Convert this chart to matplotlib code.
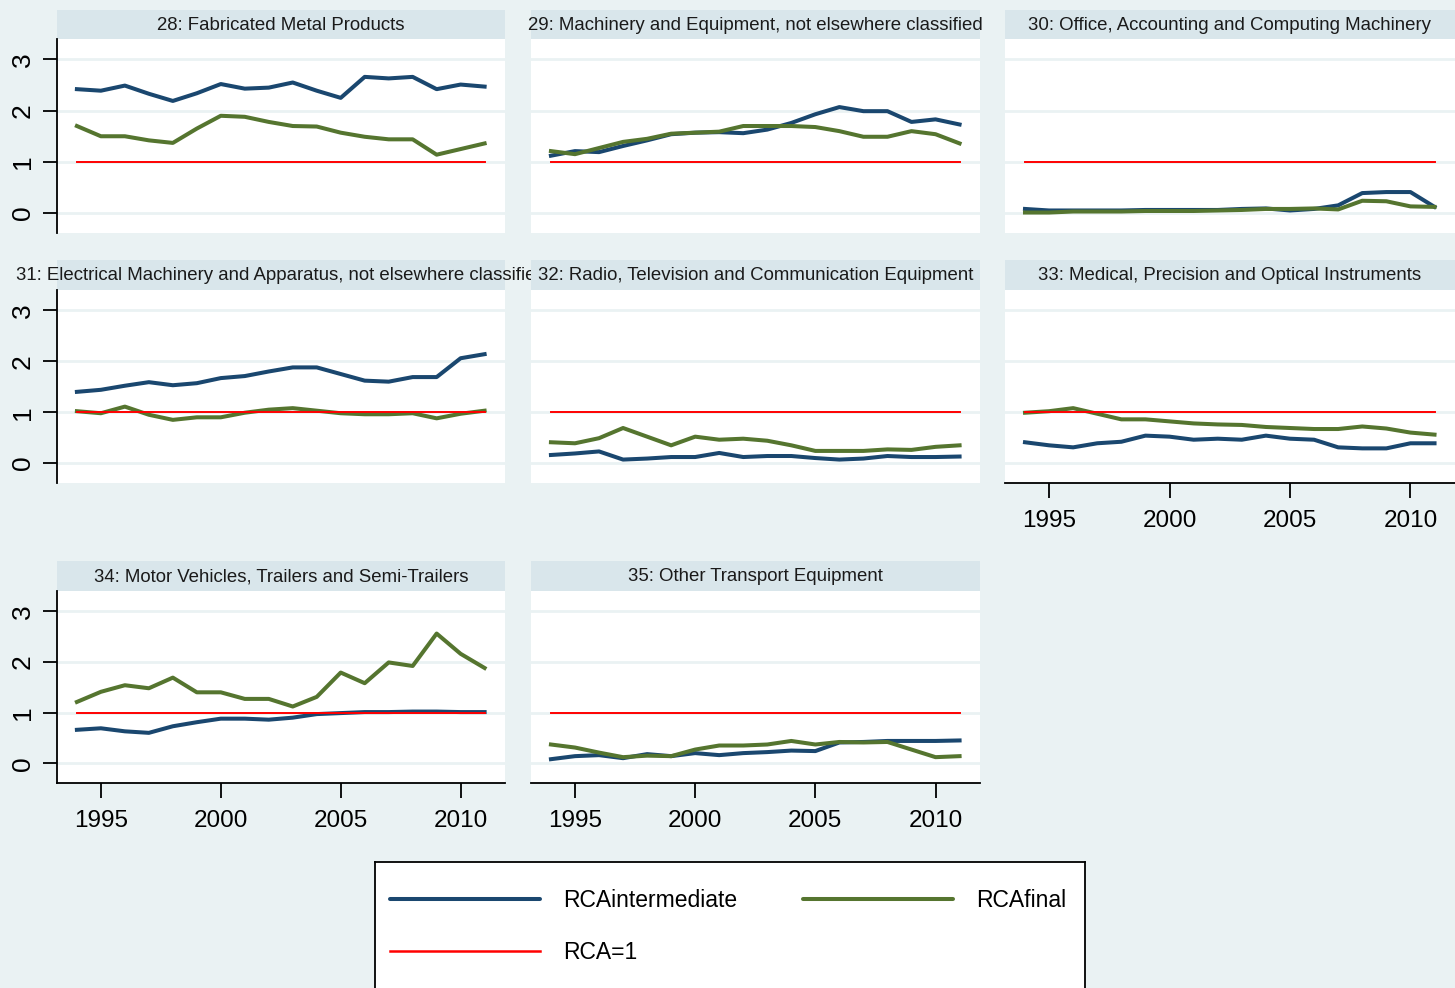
import matplotlib.pyplot as plt
from matplotlib.lines import Line2D

plt.rcParams['font.family'] = ['Liberation Sans', 'DejaVu Sans']

years = list(range(1994, 2012))

titles = [
    '28: Fabricated Metal Products',
    '29: Machinery and Equipment, not elsewhere classified',
    '30: Office, Accounting and Computing Machinery',
    '31: Electrical Machinery and Apparatus, not elsewhere classified',
    '32: Radio, Television and Communication Equipment',
    '33: Medical, Precision and Optical Instruments',
    '34: Motor Vehicles, Trailers and Semi-Trailers',
    '35: Other Transport Equipment',
]

# RCAintermediate / RCAfinal per industry, 1994-2011
inter_28 = [2.42, 2.39, 2.49, 2.33, 2.19, 2.34, 2.52, 2.43, 2.45, 2.55, 2.39, 2.25, 2.66, 2.63, 2.66, 2.42, 2.51, 2.47]
final_28 = [1.70, 1.50, 1.50, 1.42, 1.37, 1.65, 1.90, 1.88, 1.78, 1.70, 1.69, 1.57, 1.49, 1.44, 1.44, 1.14, 1.25, 1.36]

inter_29 = [1.12, 1.21, 1.19, 1.31, 1.42, 1.54, 1.57, 1.58, 1.56, 1.63, 1.76, 1.93, 2.07, 1.99, 1.99, 1.78, 1.83, 1.73]
final_29 = [1.21, 1.15, 1.27, 1.39, 1.45, 1.55, 1.57, 1.59, 1.70, 1.70, 1.70, 1.68, 1.60, 1.49, 1.49, 1.60, 1.54, 1.36]

inter_30 = [0.08, 0.05, 0.05, 0.05, 0.05, 0.06, 0.06, 0.06, 0.06, 0.08, 0.09, 0.05, 0.08, 0.15, 0.39, 0.41, 0.41, 0.12]
final_30 = [0.01, 0.01, 0.03, 0.03, 0.03, 0.04, 0.04, 0.04, 0.05, 0.06, 0.08, 0.08, 0.09, 0.07, 0.24, 0.23, 0.13, 0.12]

inter_31 = [1.40, 1.44, 1.52, 1.59, 1.53, 1.57, 1.67, 1.71, 1.80, 1.88, 1.88, 1.75, 1.62, 1.60, 1.69, 1.69, 2.06, 2.14]
final_31 = [1.02, 0.98, 1.11, 0.95, 0.85, 0.90, 0.90, 0.99, 1.05, 1.08, 1.03, 0.98, 0.96, 0.96, 0.98, 0.88, 0.97, 1.03]

inter_32 = [0.16, 0.19, 0.23, 0.07, 0.09, 0.12, 0.12, 0.20, 0.12, 0.14, 0.14, 0.10, 0.07, 0.09, 0.14, 0.12, 0.12, 0.13]
final_32 = [0.41, 0.39, 0.49, 0.69, 0.52, 0.35, 0.52, 0.46, 0.48, 0.44, 0.35, 0.24, 0.24, 0.24, 0.27, 0.26, 0.32, 0.35]

inter_33 = [0.41, 0.35, 0.31, 0.39, 0.42, 0.54, 0.52, 0.46, 0.48, 0.46, 0.54, 0.48, 0.46, 0.31, 0.29, 0.29, 0.39, 0.39]
final_33 = [0.99, 1.02, 1.08, 0.97, 0.86, 0.86, 0.82, 0.78, 0.76, 0.75, 0.71, 0.69, 0.67, 0.67, 0.72, 0.68, 0.60, 0.56]

inter_34 = [0.66, 0.69, 0.63, 0.60, 0.73, 0.81, 0.88, 0.88, 0.86, 0.90, 0.97, 0.99, 1.01, 1.01, 1.02, 1.02, 1.01, 1.01]
final_34 = [1.21, 1.41, 1.54, 1.48, 1.69, 1.40, 1.40, 1.27, 1.27, 1.12, 1.31, 1.79, 1.58, 1.99, 1.92, 2.56, 2.16, 1.88]

inter_35 = [0.08, 0.14, 0.16, 0.10, 0.18, 0.14, 0.20, 0.16, 0.20, 0.22, 0.25, 0.24, 0.41, 0.42, 0.44, 0.44, 0.44, 0.45]
final_35 = [0.37, 0.31, 0.21, 0.12, 0.15, 0.14, 0.27, 0.35, 0.35, 0.37, 0.44, 0.37, 0.42, 0.41, 0.42, 0.27, 0.12, 0.14]

rca_one = [1] * len(years)

panels = [
    (titles[0], inter_28, final_28),
    (titles[1], inter_29, final_29),
    (titles[2], inter_30, final_30),
    (titles[3], inter_31, final_31),
    (titles[4], inter_32, final_32),
    (titles[5], inter_33, final_33),
    (titles[6], inter_34, final_34),
    (titles[7], inter_35, final_35),
]

W, H = 1455, 988
BG = '#eaf2f3'
STRIP = '#d9e6eb'
BLUE = '#1a476f'
GREEN = '#55752f'
RED = '#ff0000'


def box(l, t, r, b):
    # pixel box -> figure fraction
    return [l / W, 1 - b / H, (r - l) / W, (b - t) / H]


fig = plt.figure(figsize=(W / 100, H / 100), dpi=100, facecolor=BG)

cols = [(57, 505), (531, 980), (1005, 1455)]
rows = [(10, 39, 233), (260, 290, 483), (561, 591, 783)]
with_xaxis = {5, 6, 7}

for i, (title, inter, final) in enumerate(panels):
    r, c = divmod(i, 3)
    left, right = cols[c]
    top, mid, bot = rows[r]

    # header strip
    hx = fig.add_axes(box(left, top, right, mid))
    hx.set_facecolor(STRIP)
    hx.set_xticks([])
    hx.set_yticks([])
    for s in hx.spines.values():
        s.set_visible(False)
    hx.text(0.5, 0.48, title, ha='center', va='center', fontsize=13.4,
            color='#1a1a1a', transform=hx.transAxes, clip_on=False)

    # plot area
    ax = fig.add_axes(box(left, mid, right, bot))
    ax.set_facecolor('white')
    ax.plot(years, inter, color=BLUE, lw=2.9, solid_joinstyle='round')
    ax.plot(years, final, color=GREEN, lw=2.9, solid_joinstyle='round')
    ax.plot(years, rca_one, color=RED, lw=1.4)
    ax.set_xlim(1993.17, 2011.85)
    ax.set_ylim(-0.39, 3.40)
    ax.set_yticks([0, 1, 2, 3])
    ax.grid(axis='y', color=BG, lw=2)
    ax.set_axisbelow(True)
    ax.spines['top'].set_visible(False)
    ax.spines['right'].set_visible(False)

    if c == 0:
        ax.spines['left'].set_linewidth(1.3)
        ax.tick_params(axis='y', length=10, width=1.3, pad=6,
                       labelsize=19, labelrotation=90)
        for lab in ax.get_yticklabels():
            lab.set_va('center')
    else:
        ax.spines['left'].set_visible(False)
        ax.tick_params(axis='y', left=False, labelleft=False)

    if i in with_xaxis:
        ax.set_xticks([1995, 2000, 2005, 2010])
        ax.spines['bottom'].set_linewidth(1.3)
        ax.tick_params(axis='x', length=10.5, width=1.3, pad=9, labelsize=17.5)
    else:
        ax.spines['bottom'].set_visible(False)
        ax.set_xticks([])

# legend box
lx = fig.add_axes(box(375, 862, 1085, 1010))
lx.set_facecolor('white')
lx.set_xticks([])
lx.set_yticks([])
for s in lx.spines.values():
    s.set_color('black')
    s.set_linewidth(1.3)

handles = [
    Line2D([], [], color=BLUE, lw=2.9, solid_capstyle='round'),
    Line2D([], [], color=RED, lw=1.8),
    Line2D([], [], color=GREEN, lw=2.9, solid_capstyle='round'),
]
labels = ['RCAintermediate', 'RCA=1', 'RCAfinal']
lx.legend(handles, labels, ncol=2, frameon=False, fontsize=16.5,
          handlelength=6.55, handletextpad=1.0, columnspacing=2.88,
          labelspacing=1.25, borderpad=0, borderaxespad=0,
          loc='upper left', bbox_to_anchor=(390 / W, 1 - 889 / H),
          bbox_transform=fig.transFigure)

fig.savefig('out.png', dpi=100, facecolor=BG)
